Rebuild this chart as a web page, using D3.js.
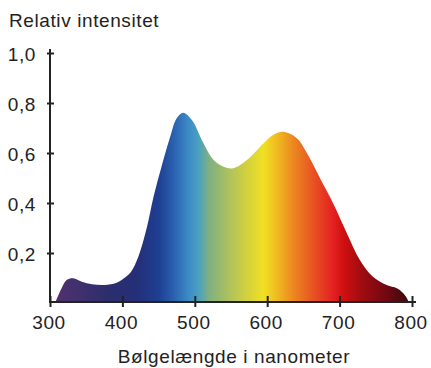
<!DOCTYPE html>
<html>
<head>
<meta charset="utf-8">
<script src="https://cdn.jsdelivr.net/npm/d3@7"></script>
<style>
  html, body { margin: 0; padding: 0; background: #fff; }
  text { font-family: "Liberation Sans", Arial, Helvetica, sans-serif; fill: #222; letter-spacing: 0.6px; }
</style>
</head>
<body>
<svg id="chart" width="431" height="368"></svg>
<script>
// ---- data ----
const wavelengths = [307, 316, 323, 332, 344, 358, 375, 392, 405, 412, 422, 434, 443, 454, 466, 475, 484, 496, 512, 526, 540, 553, 572, 595, 608, 622, 641, 655, 673, 691, 710, 728, 746, 765, 779, 788, 793, 796];
const intensity   = [0, 0.059, 0.092, 0.099, 0.085, 0.075, 0.072, 0.081, 0.105, 0.125, 0.185, 0.305, 0.425, 0.545, 0.665, 0.739, 0.761, 0.732, 0.639, 0.572, 0.545, 0.539, 0.572, 0.639, 0.672, 0.685, 0.659, 0.599, 0.499, 0.399, 0.279, 0.172, 0.105, 0.072, 0.059, 0.039, 0.019, 0];

const gradWavelengths = [305, 340, 380, 420, 450, 470, 490, 505, 520, 545, 570, 595, 615, 635, 660, 690, 705, 730, 760, 795];
const gradColors = ["#523070", "#41306e", "#2c2e6c", "#252f78", "#1e3f92", "#2a5fae", "#3b88c6", "#4aa0c0", "#80b080", "#aac060", "#d0d040", "#f0e024", "#f0b820", "#ec8a20", "#e85a22", "#e42222", "#d01010", "#a00c10", "#780812", "#3c0a0e"];

const xTicks = [300, 400, 500, 600, 700, 800];
const yTicks = [0.2, 0.4, 0.6, 0.8, 1.0];
const yTickLabels = ["0,2", "0,4", "0,6", "0,8", "1,0"];
const yTitle = "Relativ intensitet";
const xTitle = "Bølgelængde i nanometer";

// ---- chart ----
const svg = d3.select("#chart");
const x = d3.scaleLinear().domain([300, 800]).range([50, 412]);
const y = d3.scaleLinear().domain([0, 1]).range([303, 53]);

const defs = svg.append("defs");
const grad = defs.append("linearGradient")
  .attr("id", "spectrum")
  .attr("gradientUnits", "userSpaceOnUse")
  .attr("x1", x(300)).attr("x2", x(800))
  .attr("y1", 0).attr("y2", 0);
gradWavelengths.forEach((w, i) => {
  grad.append("stop")
    .attr("offset", (w - 300) / 500)
    .attr("stop-color", gradColors[i]);
});

const data = wavelengths.map((w, i) => ({ w, v: intensity[i] }));
const area = d3.area()
  .x(d => x(d.w))
  .y0(y(0))
  .y1(d => y(d.v))
  .curve(d3.curveCatmullRom.alpha(0.5));

svg.append("path")
  .datum(data)
  .attr("d", area)
  .attr("fill", "url(#spectrum)");

// axes
const axisColor = "#222";
const FS = 19;
// y axis
const yAxis = svg.append("g").attr("transform", `translate(${x(300)},0)`)
  .call(d3.axisLeft(y).tickValues(yTicks).tickFormat((d, i) => yTickLabels[i]).tickSize(3).tickPadding(11));
yAxis.select(".domain").remove();
yAxis.selectAll(".tick line").attr("x1", 4).attr("x2", -3).attr("stroke", axisColor).attr("stroke-width", 2);
yAxis.selectAll(".tick text")
  .attr("font-size", FS).attr("dy", "0.42em")
  .style("font-family", '"Liberation Sans", Arial, sans-serif').attr("fill", "#222");
yAxis.append("line")
  .attr("x1", 0).attr("x2", 0).attr("y1", y(1) - 4).attr("y2", y(0))
  .attr("stroke", axisColor).attr("stroke-width", 2);

// x axis
const xAxis = svg.append("g").attr("transform", `translate(0,${y(0) - 1})`)
  .call(d3.axisBottom(x).tickValues(xTicks).tickFormat(d => d).tickSize(5).tickPadding(9));
xAxis.select(".domain").remove();
xAxis.selectAll(".tick line").attr("y1", -6).attr("y2", 5).attr("stroke", axisColor).attr("stroke-width", 2);
xAxis.selectAll(".tick text")
  .attr("font-size", FS).attr("dx", "-1.5")
  .style("font-family", '"Liberation Sans", Arial, sans-serif').attr("fill", "#222");
xAxis.append("line")
  .attr("x1", x(300) - 1).attr("x2", x(800) + 4).attr("y1", 0).attr("y2", 0)
  .attr("stroke", axisColor).attr("stroke-width", 2);

// titles
svg.append("text")
  .attr("x", 9).attr("y", 27)
  .attr("font-size", FS)
  .text(yTitle);

svg.append("text")
  .attr("x", 234).attr("y", 363)
  .attr("text-anchor", "middle")
  .attr("font-size", FS)
  .text(xTitle);
</script>
</body>
</html>
